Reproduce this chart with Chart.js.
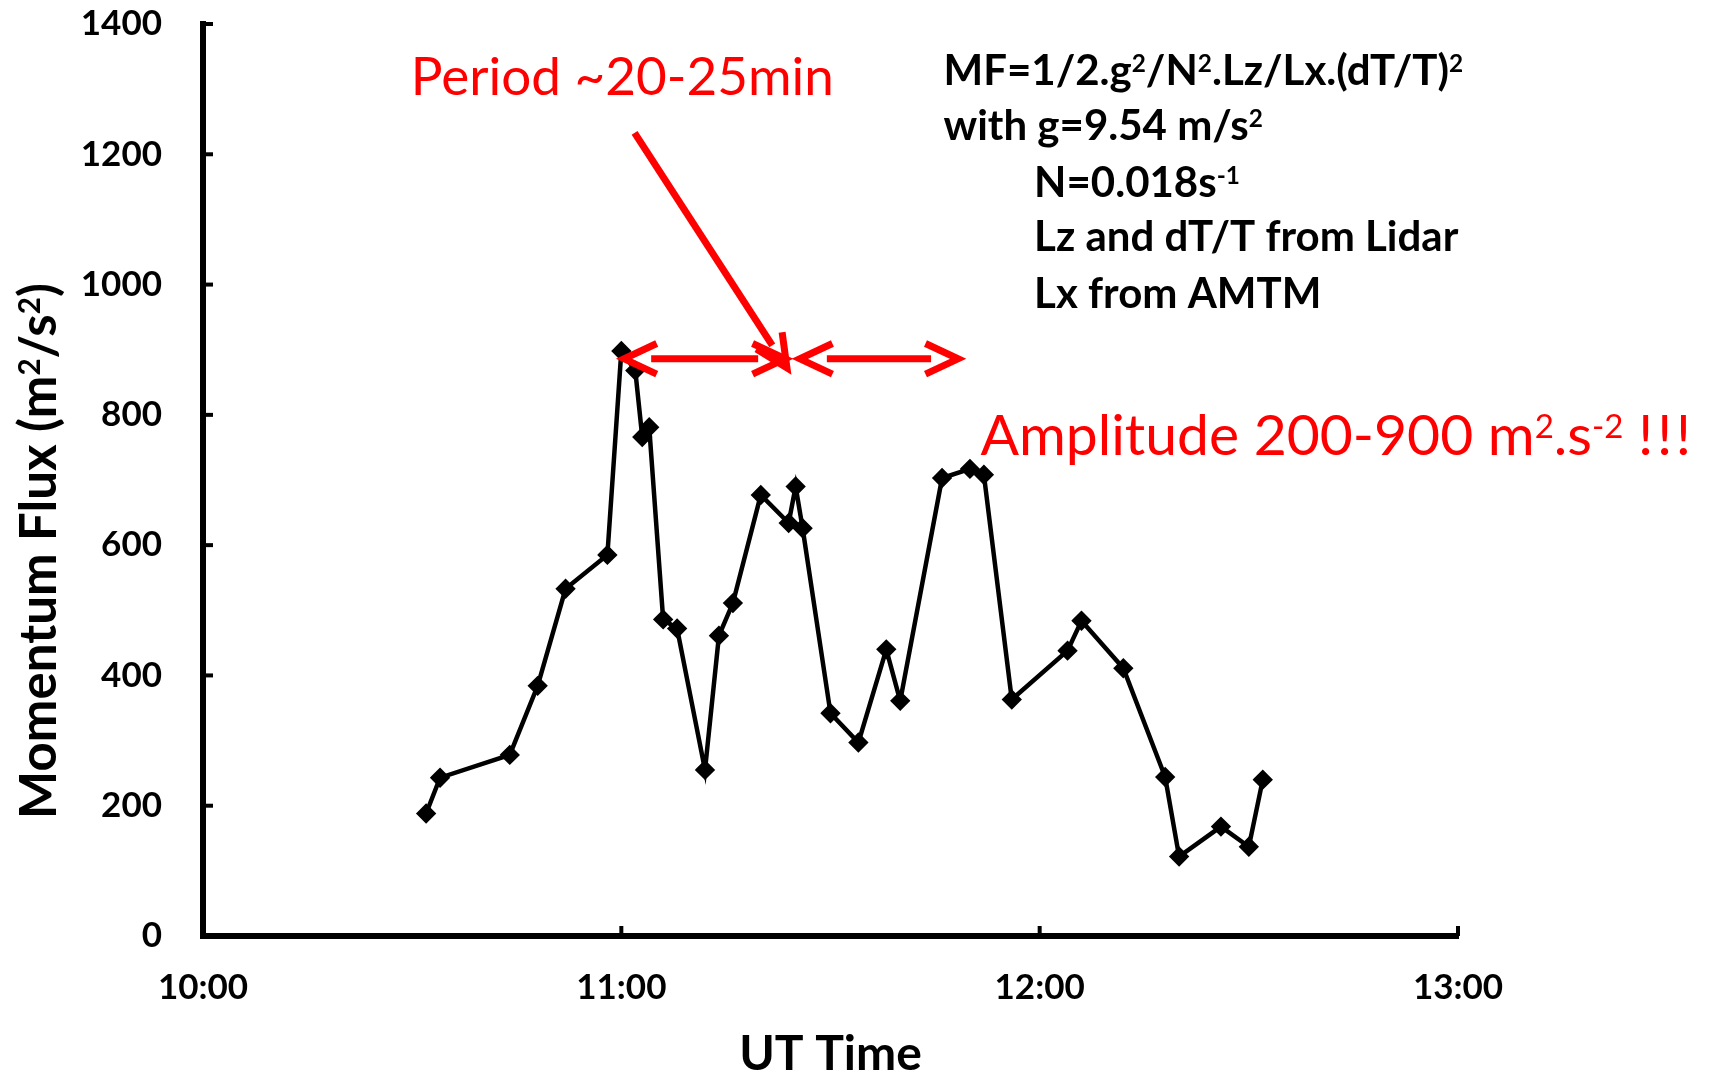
<!DOCTYPE html>
<html lang="en">
<head>
<meta charset="UTF-8">
<title>Momentum Flux vs UT Time</title>
<script src="https://cdn.jsdelivr.net/npm/chart.js"></script>
<style>
  html, body { margin: 0; padding: 0; background: #fff; }
  canvas { display: block; }
</style>
</head>
<body>
<canvas id="fluxChart" width="1711" height="1081"></canvas>
<script>
// sample times (UT) and momentum flux at each one, m^2/s^2
const utTimes = ['10:32', '10:34', '10:44', '10:48', '10:52', '10:58', '11:00', '11:02', '11:03', '11:04',
                 '11:06', '11:08', '11:12', '11:14', '11:16', '11:20', '11:24', '11:25', '11:26', '11:30',
                 '11:34', '11:38', '11:40', '11:46', '11:50', '11:52', '11:56', '12:04', '12:06', '12:12',
                 '12:18', '12:20', '12:26', '12:30', '12:32'];
const fluxValues = [188, 243, 278, 384, 533, 585, 898, 868, 766, 781,
                    486, 472, 255, 461, 511, 677, 634, 690, 626, 342,
                    297, 440, 361, 703, 717, 708, 363, 438, 484, 411,
                    244, 122, 168, 137, 240];

// axis ranges
const timeRange = ['10:00', '13:00'];
const fluxRange = [0, 1400];
const fluxStep = 200;

// two ~25 min periods marked at the first peak: [from, to, flux]
const periodSpans = [['10:59.4', '11:24.5', 886], ['11:24.6', '11:49.3', 886]];
// pointer from the label down to the period marks: [time, flux] start and tip
const pointerArrow = [['11:01.9', 1233], ['11:24.3', 863]];

// text notes; '^{..}' is a superscript
const notes = [
  { text: 'Period ~20-25min', at: ['10:29.8', 1291], color: '#ff0000', weight: 400, size: 53 },
  { text: 'Amplitude 200-900 m^{2}.s^{-2} !\u200A!\u200A!', at: ['11:51.5', 738], color: '#ff0000', weight: 400, size: 57 },
  { text: 'MF=1/2.g^{2}/N^{2}.Lz/Lx.(dT/T)^{2}', at: ['11:46.2', 1306], color: '#000', weight: 700, size: 42 },
  { text: 'with g=9.54 m/s^{2}', at: ['11:46.2', 1222], color: '#000', weight: 700, size: 42 },
  { text: 'N=0.018s^{-1}', at: ['11:59.2', 1135], color: '#000', weight: 700, size: 42 },
  { text: 'Lz and dT/T from Lidar', at: ['11:59.2', 1051], color: '#000', weight: 700, size: 42 },
  { text: 'Lx from AMTM', at: ['11:59.2', 964], color: '#000', weight: 700, size: 42 }
];

function toMinutes(t) {
  const [h, m] = t.split(':');
  return Number(h) * 60 + parseFloat(m);
}

function fmtTime(v) {
  const h = Math.floor(v / 60);
  const m = Math.round(v - h * 60);
  return h + ':' + String(m).padStart(2, '0');
}

// draws (or just measures) a string with ^{..} superscript runs, returns its width
function richText(ctx, str, x, y, size, weight, draw) {
  const parts = str.split(/(\^\{[^}]*\})/).filter(Boolean);
  let cx = x;
  parts.forEach(p => {
    const sup = p.startsWith('^{');
    const txt = sup ? p.slice(2, -1) : p;
    const s = sup ? size * 0.58 : size;
    ctx.font = `${weight} ${s}px Lato`;
    if (draw) ctx.fillText(txt, cx, sup ? y - size * 0.31 : y);
    cx += ctx.measureText(txt).width;
  });
  return cx - x;
}

function line(ctx, x1, y1, x2, y2) {
  ctx.beginPath();
  ctx.moveTo(x1, y1);
  ctx.lineTo(x2, y2);
  ctx.stroke();
}

// open arrow head pointing along angle a, tip at (x, y)
function chevron(ctx, x, y, a) {
  const len = 36, spread = 0.44, pull = 7;
  const tx = x - pull * Math.cos(a), ty = y - pull * Math.sin(a);
  ctx.beginPath();
  ctx.moveTo(tx - len * Math.cos(a - spread), ty - len * Math.sin(a - spread));
  ctx.lineTo(tx, ty);
  ctx.lineTo(tx - len * Math.cos(a + spread), ty - len * Math.sin(a + spread));
  ctx.stroke();
}

function arrow(ctx, x1, y1, x2, y2, both) {
  const a = Math.atan2(y2 - y1, x2 - x1);
  const gap = 34;
  const cx = Math.cos(a), cy = Math.sin(a);
  const sx = both ? x1 + gap * cx : x1, sy = both ? y1 + gap * cy : y1;
  line(ctx, sx, sy, x2 - gap * cx, y2 - gap * cy);
  chevron(ctx, x2, y2, a);
  if (both) chevron(ctx, x1, y1, a + Math.PI);
}

// short inward tick marks on both axes
const innerTicks = {
  id: 'innerTicks',
  afterDraw(chart) {
    const { ctx, chartArea: area, scales: { x, y } } = chart;
    ctx.save();
    ctx.strokeStyle = '#000';
    ctx.lineWidth = 4;
    y.ticks.forEach(t => {
      if (t.value === y.min) return;
      const py = y.getPixelForValue(t.value);
      line(ctx, area.left, py, area.left + 10, py);
    });
    x.ticks.forEach(t => {
      if (t.value === x.min) return;
      const px = x.getPixelForValue(t.value);
      line(ctx, px, area.bottom, px, area.bottom - 10);
    });
    ctx.restore();
  }
};

const annotations = {
  id: 'annotations',
  afterDraw(chart) {
    const { ctx, scales: { x, y } } = chart;
    ctx.save();

    // y axis title, rotated
    const title = 'Momentum Flux (m^{2}/s^{2})';
    const tSize = 51;
    ctx.fillStyle = '#000';
    ctx.textBaseline = 'alphabetic';
    ctx.textAlign = 'left';
    const tw = richText(ctx, title, 0, 0, tSize, 700, false);
    ctx.translate(56, 551);
    ctx.rotate(-Math.PI / 2);
    richText(ctx, title, -tw / 2, 0, tSize, 700, true);
    ctx.setTransform(1, 0, 0, 1, 0, 0);

    // period arrows
    ctx.strokeStyle = '#ff0000';
    ctx.lineWidth = 7;
    ctx.lineCap = 'butt';
    ctx.lineJoin = 'miter';
    periodSpans.forEach(([t1, t2, v]) => {
      const py = y.getPixelForValue(v);
      arrow(ctx, x.getPixelForValue(toMinutes(t1)), py, x.getPixelForValue(toMinutes(t2)), py, true);
    });
    const [[ft, fv], [tt, tv]] = pointerArrow;
    arrow(ctx, x.getPixelForValue(toMinutes(ft)), y.getPixelForValue(fv),
          x.getPixelForValue(toMinutes(tt)), y.getPixelForValue(tv), false);

    // text notes
    notes.forEach(n => {
      ctx.fillStyle = n.color;
      richText(ctx, n.text, x.getPixelForValue(toMinutes(n.at[0])), y.getPixelForValue(n.at[1]),
               n.size, n.weight, true);
    });
    ctx.restore();
  }
};

const ctx = document.getElementById('fluxChart').getContext('2d');
new Chart(ctx, {
  type: 'line',
  data: {
    datasets: [{
      label: 'Momentum Flux',
      data: utTimes.map((t, i) => ({ x: toMinutes(t), y: fluxValues[i] })),
      borderColor: '#000',
      backgroundColor: '#000',
      borderWidth: 4.5,
      pointStyle: 'rectRot',
      pointRadius: 7,
      pointHoverRadius: 7,
      tension: 0,
      fill: false
    }]
  },
  options: {
    responsive: false,
    animation: false,
    events: [],
    layout: { padding: { top: 24, right: 253, left: 0, bottom: 0 } },
    plugins: {
      legend: { display: false },
      tooltip: { enabled: false }
    },
    scales: {
      x: {
        type: 'linear',
        min: toMinutes(timeRange[0]),
        max: toMinutes(timeRange[1]),
        afterFit(s) { s.height = 145; },
        grid: { drawOnChartArea: false, drawTicks: false },
        border: { color: '#000', width: 6 },
        ticks: {
          stepSize: 60,
          padding: 31,
          color: '#000',
          font: { family: 'Lato', weight: 'bold', size: 35 },
          callback: v => fmtTime(v)
        },
        title: {
          display: true,
          text: 'UT Time',
          color: '#000',
          font: { family: 'Lato', weight: 'bold', size: 48, lineHeight: 1 },
          padding: { top: 0, bottom: 2 }
        }
      },
      y: {
        min: fluxRange[0],
        max: fluxRange[1],
        // fixed axis width; the label padding should not push the plot top down
        afterFit(s) { s.width = 203; s.paddingTop = 0; s.paddingBottom = 0; },
        grid: { drawOnChartArea: false, drawTicks: false },
        border: { color: '#000', width: 6 },
        ticks: {
          stepSize: fluxStep,
          padding: 41,
          color: '#000',
          font: { family: 'Lato', weight: 'bold', size: 35 },
          callback: v => String(v)
        }
      }
    }
  },
  plugins: [innerTicks, annotations]
});
</script>
</body>
</html>
